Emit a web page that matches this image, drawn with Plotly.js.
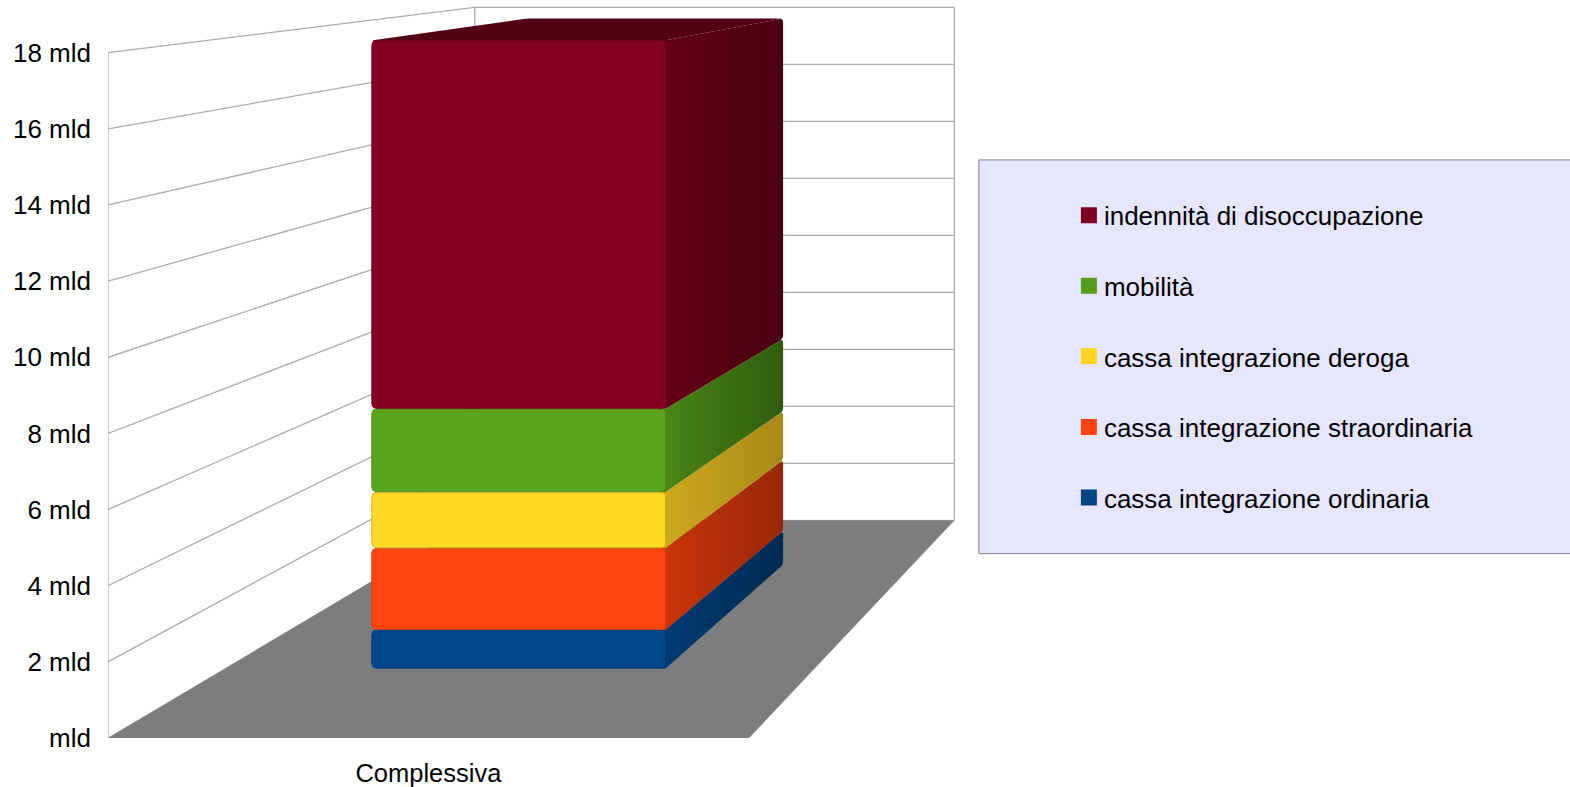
<!DOCTYPE html>
<html>
<head>
<meta charset="utf-8">
<script src="https://cdn.plot.ly/plotly-3.0.1.min.js"></script>
<style>html,body{margin:0;padding:0;background:#fff}#chart{width:1570px;height:787px}</style>
</head>
<body>
<div id="chart"></div>
<script>
const categories = ['Complessiva'];
const seriesNames = ['cassa integrazione ordinaria','cassa integrazione straordinaria','cassa integrazione deroga','mobilità','indennità di disoccupazione'];
const seriesValues = [1.11, 2.33, 1.6, 2.38, 10.52];
const tickValues = [0,2,4,6,8,10,12,14,16,18];
const tickLabels = ['mld','2 mld','4 mld','6 mld','8 mld','10 mld','12 mld','14 mld','16 mld','18 mld'];
const legendColors = ['#004586','#ff420e','#ffd320','#579d1c','#7e0021'];
const frontColors = ['#00468a','#ff450f','#ffd921','#5aa31d','#820022'];
const edgeColors = ['#003a70','#d63a0c','#c9a71a','#4c8a18','#6e001c'];
const sideStart = ['#003c74','#cc360b','#d0ab1e','#4b8818','#660019'];
const sideEnd = ['#002a52','#982707','#a88a17','#2f5c0e','#47000f'];
const topColor = '#530015';

// Page geometry
const W = 1570, H = 787, LEFT = 108.3, BASE = 738.5;
const PX_X = 640.7, PX_Y = 38.1;          // px per unit at the front plane
const VPX = (1565.6 - LEFT) / PX_X, VPY = (BASE + 127.2) / PX_Y; // vanishing point
const K = 0.3362;                         // perspective strength
const barX = [0.2489, 0.7475], barD = [0.2597, 0.7454];

function proj(X, V, D) {
  const s = 1 / (1 + K * D);
  return [VPX + (X - VPX) * s, VPY + (V - VPY) * s];
}
function roundPoly(pts, radii) {
  const P = pts.map(p => [p[0] * PX_X, -p[1] * PX_Y]);
  const xs = [], ys = [];
  const n = P.length;
  for (let i = 0; i < n; i++) {
    const r = radii[i];
    const a = P[(i + n - 1) % n], b = P[i], c = P[(i + 1) % n];
    if (!r) { xs.push(b[0] / PX_X); ys.push(-b[1] / PX_Y); continue; }
    const la = Math.hypot(a[0]-b[0], a[1]-b[1]), lc = Math.hypot(c[0]-b[0], c[1]-b[1]);
    const ra = Math.min(r, la / 2) / la, rc = Math.min(r, lc / 2) / lc;
    const p0 = [b[0] + (a[0]-b[0]) * ra, b[1] + (a[1]-b[1]) * ra];
    const p2 = [b[0] + (c[0]-b[0]) * rc, b[1] + (c[1]-b[1]) * rc];
    for (let t = 0; t <= 1.0001; t += 0.2) {
      const u = 1 - t;
      xs.push((u*u*p0[0] + 2*u*t*b[0] + t*t*p2[0]) / PX_X);
      ys.push(-(u*u*p0[1] + 2*u*t*b[1] + t*t*p2[1]) / PX_Y);
    }
  }
  xs.push(xs[0]); ys.push(ys[0]);
  return {x: xs, y: ys};
}
function lineTrace(segs, color, width) {
  const x = [], y = [];
  segs.forEach(s => { s.forEach(p => { x.push(p[0]); y.push(p[1]); }); x.push(null); y.push(null); });
  return {type:'scatter', mode:'lines', x, y, line:{color, width}, hoverinfo:'skip', showlegend:false};
}

const traces = [];
const topTick = tickValues[tickValues.length - 1];
// floor
const floor = [proj(0,0,0), proj(1,0,0), proj(1,0,1), proj(0,0,1)];
traces.push({type:'scatter', mode:'lines', fill:'toself', fillcolor:'#7d7d7d', line:{color:'#7d7d7d', width:0.5},
  x: floor.map(p=>p[0]).concat(floor[0][0]), y: floor.map(p=>p[1]).concat(floor[0][1]), hoverinfo:'skip', showlegend:false});
// walls and gridlines
const segs = [];
tickValues.forEach(v => {
  if (v > 0) { segs.push([proj(0,v,0), proj(0,v,1), proj(1,v,1)]); }
});
segs.push([proj(0,0,0), proj(0,topTick,0)]);
segs.push([proj(0,0,1), proj(0,topTick,1)]);
segs.push([proj(1,0,1), proj(1,topTick,1)]);
traces.push(lineTrace(segs, '#acacac', 1.3));

// stacked bar
const gap = 0.3 / PX_Y, tuck = 0.012, tuckV = 0.2;
let running = 0;
seriesValues.forEach((v, i) => {
  const base = running, end = running + v;
  const lo = base + gap, hi = end - gap;
  running = end;
  const side = roundPoly([
    proj(barX[1]-tuck,base,barD[0]), proj(barX[1],base,barD[0]), proj(barX[1],base,barD[1]),
    proj(barX[1],end,barD[1]), proj(barX[1],end,barD[0]), proj(barX[1]-tuck,end,barD[0])], [0,0,4,4,0,0]);
  traces.push({type:'scatter', mode:'none', fill:'toself', x:side.x, y:side.y, name:seriesNames[i], hoverinfo:'skip', showlegend:false,
    fillgradient:{type:'horizontal', colorscale:[[0,sideStart[i]],[1,sideEnd[i]]]}});
  if (i === seriesValues.length - 1) {
    const t = roundPoly([proj(barX[0]+tuck,end-tuckV,barD[0]), proj(barX[1]-tuck,end-tuckV,barD[0]), proj(barX[1],end,barD[0]), proj(barX[1],end,barD[1]), proj(barX[0],end,barD[1]), proj(barX[0],end,barD[0])], [0,0,0,4,6,3]);
    traces.push({type:'scatter', mode:'none', fill:'toself', fillcolor:topColor, x:t.x, y:t.y, hoverinfo:'skip', showlegend:false});
  }
  const f = roundPoly([proj(barX[0],lo,barD[0]), proj(barX[1],lo,barD[0]), proj(barX[1],hi,barD[0]), proj(barX[0],hi,barD[0])], [5,5,5,5]);
  traces.push({type:'scatter', mode:'lines', fill:'toself', fillcolor:frontColors[i], line:{color:edgeColors[i], width:0.8},
    x:f.x, y:f.y, name:seriesNames[i], hoverinfo:'name', showlegend:false});
});
// legend entries, top of the stack first
for (let i = seriesNames.length - 1; i >= 0; i--) {
  traces.push({type:'scatter', mode:'markers', x:[null], y:[null], name:seriesNames[i], legendgroup:'g'+i, showlegend:true,
    marker:{symbol:'square', size:16, color:legendColors[i]}, hoverinfo:'skip'});
}

const plotW = W - LEFT;
const pxToPaperX = px => (px - LEFT) / plotW;
const pxToPaperY = py => (BASE - py) / BASE;
const layout = {
  width: W, height: H, paper_bgcolor:'#fff', plot_bgcolor:'rgba(0,0,0,0)', showlegend:true,
  margin:{l:LEFT, r:0, t:0, b:H-BASE, pad:0},
  font:{family:'"Liberation Sans", Arial, sans-serif', size:25, color:'#000'},
  xaxis:{range:[0, plotW/PX_X], showgrid:false, zeroline:false, showline:false, ticks:'', automargin:false,
    tickmode:'array', tickvals:[0.5], ticktext:categories, ticklabelstandoff:17, fixedrange:true, tickfont:{size:25.5}},
  yaxis:{range:[0, BASE/PX_Y], showgrid:false, zeroline:false, showline:false, ticks:'', automargin:false,
    tickmode:'array', tickvals:tickValues, ticktext:tickLabels, ticklabelstandoff:16, fixedrange:true, tickfont:{size:26}},
  shapes:[{type:'rect', xref:'paper', yref:'paper', layer:'below',
    x0:pxToPaperX(979), x1:pxToPaperX(1575), y0:pxToPaperY(160), y1:pxToPaperY(554),
    fillcolor:'#e6e6ff', line:{color:'#808080', width:1}}],
  legend:{xref:'paper', yref:'paper', x:pxToPaperX(1074), y:pxToPaperY(192), xanchor:'left', yanchor:'top',
    bgcolor:'rgba(0,0,0,0)', borderwidth:0, traceorder:'grouped', tracegroupgap:33.75, itemwidth:30, indentation:-5,
    font:{size:26, color:'#000'}, itemclick:false, itemdoubleclick:false},
  hovermode:'closest'
};
Plotly.newPlot('chart', traces, layout, {displayModeBar:false, responsive:false}).then(gd => {
  // The reference sets its legend labels closer to the swatches than Plotly's fixed spacing.
  gd.querySelectorAll('.legend .legendtext').forEach(t => t.setAttribute('x', +t.getAttribute('x') - 5));
});
</script>
</body>
</html>
